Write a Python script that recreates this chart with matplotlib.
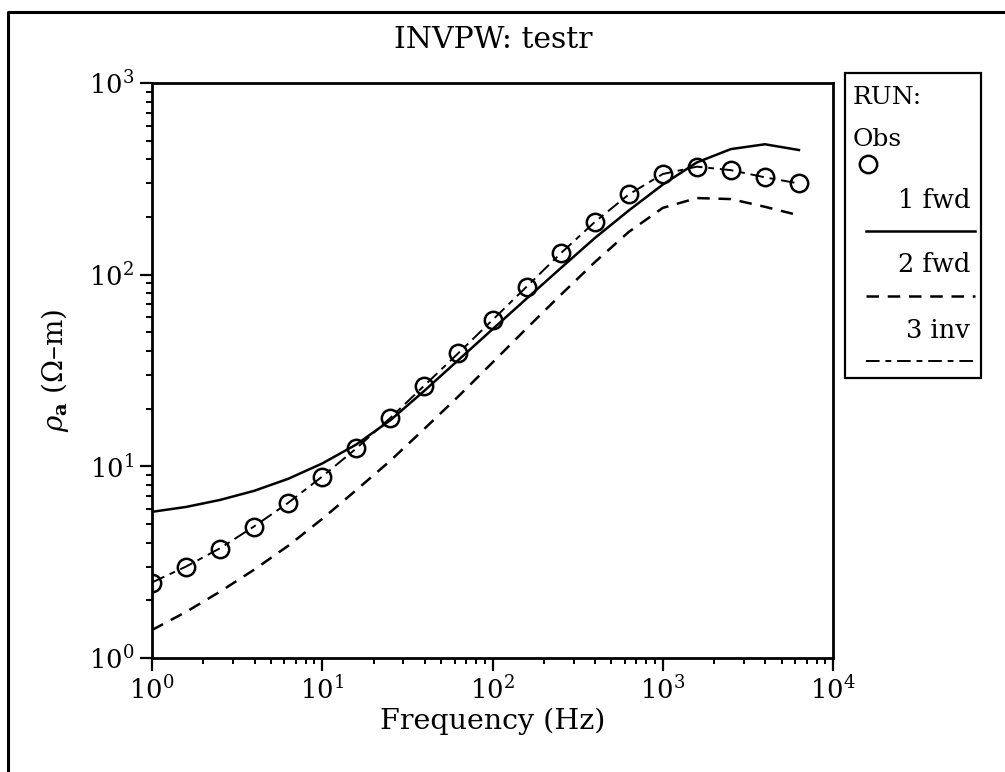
import numpy as np
import matplotlib
matplotlib.use('Agg')
import matplotlib.pyplot as plt
from matplotlib.patches import Rectangle

plt.rcParams['font.family'] = 'DejaVu Serif'
plt.rcParams['mathtext.fontset'] = 'dejavuserif'

# frequencies (Hz), every 0.2 decade
freq = [1.0, 1.585, 2.512, 3.981, 6.310, 10.0, 15.85, 25.12, 39.81, 63.10,
        100.0, 158.5, 251.2, 398.1, 631.0, 1000.0, 1585.0, 2512.0, 3981.0, 6310.0]

# apparent resistivity (ohm-m)
obs = [2.46, 2.98, 3.72, 4.85, 6.45, 8.85, 12.4, 17.9, 26.4, 38.9,
       58.0, 86.5, 129, 188, 262, 335, 366, 351, 322, 299]
fwd1 = [5.79, 6.14, 6.68, 7.45, 8.61, 10.35, 13.0, 17.4, 24.8, 35.9,
        51.9, 75.0, 108, 155, 216, 295, 385, 452, 479, 447]
fwd2 = [1.40, 1.74, 2.22, 2.89, 3.85, 5.32, 7.52, 10.7, 15.7, 23.2,
        34.8, 52.4, 78.3, 116, 167, 223, 251, 248, 226, 204]
inv3 = [2.48, 3.0, 3.74, 4.86, 6.45, 8.85, 12.4, 17.9, 26.4, 39.0,
        58.0, 86.5, 129, 188, 262, 335, 366, 351, 322, 299]

legend_labels = ['1 fwd', '2 fwd', '3 inv']
dash2 = (0, (5, 3.5))
dash3 = (0, (7, 3, 3, 3))

fig = plt.figure(figsize=(10.05, 7.72), dpi=100)

# overlay in pixel coordinates for outer frame and legend box
ov = fig.add_axes([0, 0, 1, 1])
ov.set_xlim(0, 1005)
ov.set_ylim(772, 0)
ov.axis('off')
ov.patch.set_visible(False)
ov.plot([8, 8, 1005], [772, 12, 12], color='k', lw=2.2)

ax = fig.add_axes([152 / 1005, 1 - 658 / 772, 681 / 1005, 575 / 772])
ax.set_xscale('log')
ax.set_yscale('log')
ax.set_xlim(1, 1e4)
ax.set_ylim(1, 1e3)

ax.plot(freq, fwd1, color='k', lw=1.8)
ax.plot(freq, fwd2, color='k', lw=1.8, ls=dash2)
ax.plot(freq, inv3, color='k', lw=1.4, ls=dash3)
ax.plot(freq, obs, ls='none', marker='o', ms=12.5, mfc='none', mec='k', mew=1.8)

for s in ax.spines.values():
    s.set_linewidth(2.0)
ax.tick_params(which='major', direction='out', length=9, width=1.6, labelsize=18.5, pad=4)
ax.tick_params(which='minor', direction='out', length=4.5, width=1.4)
ax.tick_params(top=False, right=False, which='both')

ax.set_xlabel('Frequency (Hz)', fontsize=20.5, labelpad=2)
fig.text(55 / 1005, 1 - 370 / 772, r'$\rho_{\mathbf{a}}$ ($\Omega$–m)', rotation=90,
         ha='center', va='center', fontsize=20)
fig.text(493 / 1005, 1 - 40 / 772, 'INVPW: testr', ha='center', va='center', fontsize=21.5)

# legend box
ov.add_patch(Rectangle((845, 73), 136, 305, fill=False, ec='k', lw=1.6))
ov.text(853, 97, 'RUN:', fontsize=18, ha='left', va='center')
ov.text(853, 140, 'Obs', fontsize=18, ha='left', va='center')
ov.plot([868], [164], ls='none', marker='o', ms=12.5, mfc='none', mec='k', mew=1.8)
styles = ['-', dash2, dash3]
widths = [1.8, 1.8, 1.4]
for i, lab in enumerate(legend_labels):
    ty = 200 + i * 65
    ov.text(970, ty, lab, fontsize=18.5, ha='right', va='center')
    ov.plot([866, 975], [ty + 31, ty + 31], color='k', lw=widths[i], ls=styles[i])

fig.savefig('out.png', dpi=100)
